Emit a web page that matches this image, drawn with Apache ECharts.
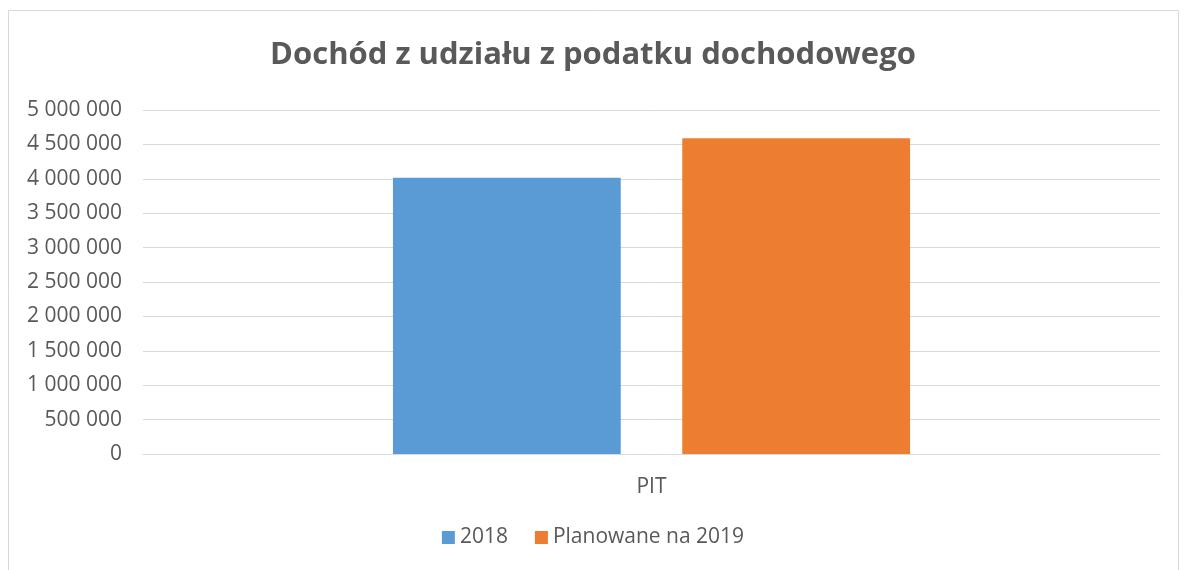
<!DOCTYPE html>
<html>
<head>
<meta charset="utf-8">
<script src="https://cdn.jsdelivr.net/npm/echarts@6/dist/echarts.min.js"></script>
<style>
html, body { margin: 0; padding: 0; background: #fff; }
#main { width: 1186px; height: 570px; }
</style>
</head>
<body>
<div id="main"></div>
<script>
// dane
var categories = ['PIT'];
var seriesNames = ['2018', 'Planowane na 2019'];
var values2018 = [4015000];
var values2019 = [4588000];
var colors = ['#5b9bd5', '#ed7d31'];

function fmt(v) {
    return String(v).replace(/\B(?=(\d{3})+(?!\d))/g, ' ');
}

var myChart = echarts.init(document.getElementById('main'));

var option = {
    backgroundColor: '#fff',
    textStyle: { fontFamily: 'Open Sans, Liberation Sans, sans-serif' },
    graphic: [{
        type: 'rect',
        shape: { x: 8.5, y: 10.5, width: 1170, height: 570 },
        style: { fill: 'none', stroke: '#d9d9d9', lineWidth: 1 },
        silent: true
    }],
    title: {
        text: 'Dochód z udziału z podatku dochodowego',
        left: 'center',
        top: 35,
        textStyle: { fontSize: 31, fontWeight: 'bold', color: '#595959' }
    },
    legend: {
        data: seriesNames,
        bottom: 17,
        left: 'center',
        itemWidth: 13,
        itemHeight: 13,
        itemGap: 27,
        icon: 'rect',
        textStyle: { fontSize: 21, color: '#595959' }
    },
    grid: { left: 143, right: 26, top: 110, bottom: 116 },
    xAxis: {
        type: 'category',
        data: categories,
        axisLine: { lineStyle: { color: '#d9d9d9' } },
        axisTick: { show: false },
        axisLabel: { fontSize: 21, color: '#595959', margin: 23 }
    },
    yAxis: {
        type: 'value',
        min: 0,
        max: 5000000,
        interval: 500000,
        axisLine: { show: false },
        axisTick: { show: false },
        splitLine: { lineStyle: { color: '#d9d9d9', width: 1 } },
        axisLabel: { fontSize: 21, color: '#595959', margin: 21, formatter: fmt }
    },
    series: [{
        name: seriesNames[0],
        type: 'bar',
        data: values2018,
        itemStyle: { color: colors[0] },
        barWidth: '22.4%',
        barGap: '27%'
    }, {
        name: seriesNames[1],
        type: 'bar',
        data: values2019,
        itemStyle: { color: colors[1] },
        barWidth: '22.4%',
        barGap: '27%'
    }]
};

myChart.setOption(option);
</script>
</body>
</html>
